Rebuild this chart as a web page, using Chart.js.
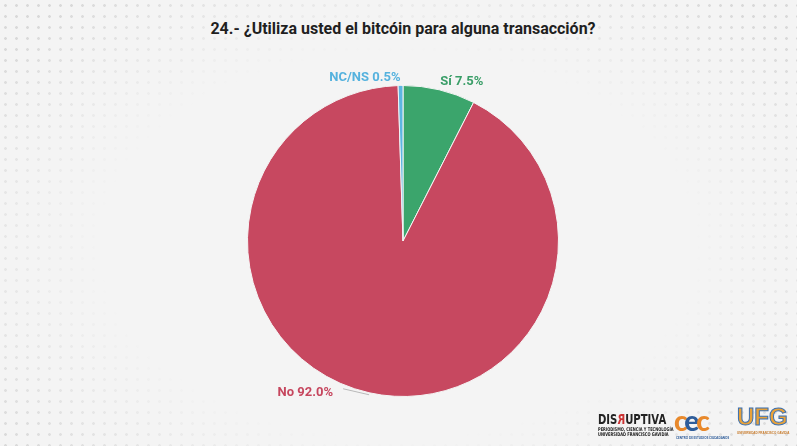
<!DOCTYPE html>
<html>
<head>
<meta charset="utf-8">
<script src="https://cdn.jsdelivr.net/npm/chart.js@4"></script>
<style>
  html, body { margin: 0; padding: 0; }
  body { width: 797px; height: 446px; background: #f4f4f4; position: relative; overflow: hidden; font-family: "Open Sans", "Noto Sans", sans-serif; }
  #dots { position: absolute; inset: 0;
    background-image: radial-gradient(circle, #d9d9d9 1.1px, transparent 1.6px);
    background-size: 11px 11px;
    -webkit-mask-image: radial-gradient(ellipse 62% 72% at 50% 55%, transparent 60%, #000 100%);
    mask-image: radial-gradient(ellipse 62% 72% at 50% 55%, transparent 60%, #000 100%);
  }
  #titulo { position: absolute; left: 0; top: 19px; width: 806px; text-align: center;
    font-family: "Roboto", sans-serif; font-weight: 700; font-size: 16px; color: #1f1f1f; }
  #wrap { position: absolute; left: 0; top: 0; width: 797px; height: 446px; }
  #logos { position: absolute; left: 598px; top: 405px; width: 199px; height: 40px; }
  .dis { position: absolute; left: 0; top: 6px; width: 68px; transform-origin: 0 0; transform: scaleX(0.72);
    font-family: "DejaVu Sans", sans-serif; font-weight: 700; font-size: 14px; color: #222; white-space: nowrap; }
  .dis small { display: block; font-size: 5px; line-height: 5px; }
  .cec { position: absolute; left: 76px; top: -2px; font-family: "Lato", sans-serif; font-weight: 900; font-size: 28px; color: #e8892c; letter-spacing: -3px; }
  .cec span { color: #2f5d9a; }
  .cec small { position: absolute; left: 2px; top: 33px; font-size: 3px; color: #2f5d9a; letter-spacing: 0; white-space: nowrap; }
  .ufg { position: absolute; left: 139px; top: -2px; font-family: "Liberation Sans", sans-serif; font-weight: 700; font-size: 24px; color: #e8a23a; -webkit-text-stroke: 1px #3a6fb0; }
  .ufg small { display: block; font-size: 3px; color: #c77a2a; -webkit-text-stroke: 0; line-height: 5px; white-space: nowrap; }
</style>
</head>
<body>
<div id="dots"></div>
<div id="titulo">24.- ¿Utiliza usted el bitcóin para alguna transacción?</div>
<div id="wrap"><canvas id="chartPie" width="797" height="446"></canvas></div>
<div id="logos">
  <div class="dis">DIS<span style="display:inline-block;transform:scaleX(-1);color:#c33">R</span>UPTIVA<small>PERIODISMO, CIENCIA Y TECNOLOGÍA<br>UNIVERSIDAD FRANCISCO GAVIDIA</small></div>
  <div class="cec">c<span>e</span>c<small>CENTRO DE ESTUDIOS CIUDADANOS</small></div>
  <div class="ufg">UFG<small>UNIVERSIDAD FRANCISCO GAVIDIA</small></div>
</div>

<script>
/* ============================================================
   Datos
   ============================================================ */
const categorias = ["Sí", "No", "NC/NS"];
const porcentajes = [7.5, 92.0, 0.5];
const colores = ["#3ba56c", "#c74860", "#5cb6e2"];
const coloresTexto = ["#3a9e68", "#c6465e", "#55b2de"];

/* ============================================================
   Plugin de etiquetas externas
   ============================================================ */
const etiquetasPlugin = {
    id: "etiquetas",
    afterDatasetsDraw(chart) {
        const ctx = chart.ctx;
        const meta = chart.getDatasetMeta(0);
        ctx.save();
        ctx.font = "700 13px 'Roboto', sans-serif";
        meta.data.forEach((arc, i) => {
            const mid = (arc.startAngle + arc.endAngle) / 2;
            const r = arc.outerRadius;
            const ex = arc.x + Math.cos(mid) * r;
            const ey = arc.y + Math.sin(mid) * r;
            const texto = categorias[i] + " " + porcentajes[i].toFixed(1) + "%";
            ctx.fillStyle = coloresTexto[i];
            ctx.textBaseline = "middle";
            if (i === 0) {
                ctx.textAlign = "left";
                ctx.fillText(texto, ex + 1, ey - 8);
            } else if (i === 2) {
                ctx.textAlign = "right";
                ctx.fillText(texto, ex, ey - 8);
            } else {
                // etiqueta con línea guía
                ctx.strokeStyle = "#b9b9b9";
                ctx.lineWidth = 1;
                ctx.beginPath();
                ctx.moveTo(ex, ey + 2);
                ctx.lineTo(ex - 26, ey - 4);
                ctx.stroke();
                ctx.textAlign = "right";
                ctx.fillText(texto, ex - 36, ey);
            }
        });
        ctx.restore();
    }
};

/* ============================================================
   Gráfico
   ============================================================ */
new Chart(document.getElementById("chartPie"), {
    type: "pie",
    data: {
        labels: categorias,
        datasets: [{
            data: porcentajes,
            backgroundColor: colores,
            borderColor: "#f4f4f4",
            borderWidth: 1
        }]
    },
    options: {
        responsive: false,
        animation: false,
        layout: { padding: { top: 85, bottom: 49, left: 9, right: 0 } },
        plugins: {
            legend: { display: false },
            tooltip: { enabled: false }
        }
    },
    plugins: [etiquetasPlugin]
});
</script>
</body>
</html>
